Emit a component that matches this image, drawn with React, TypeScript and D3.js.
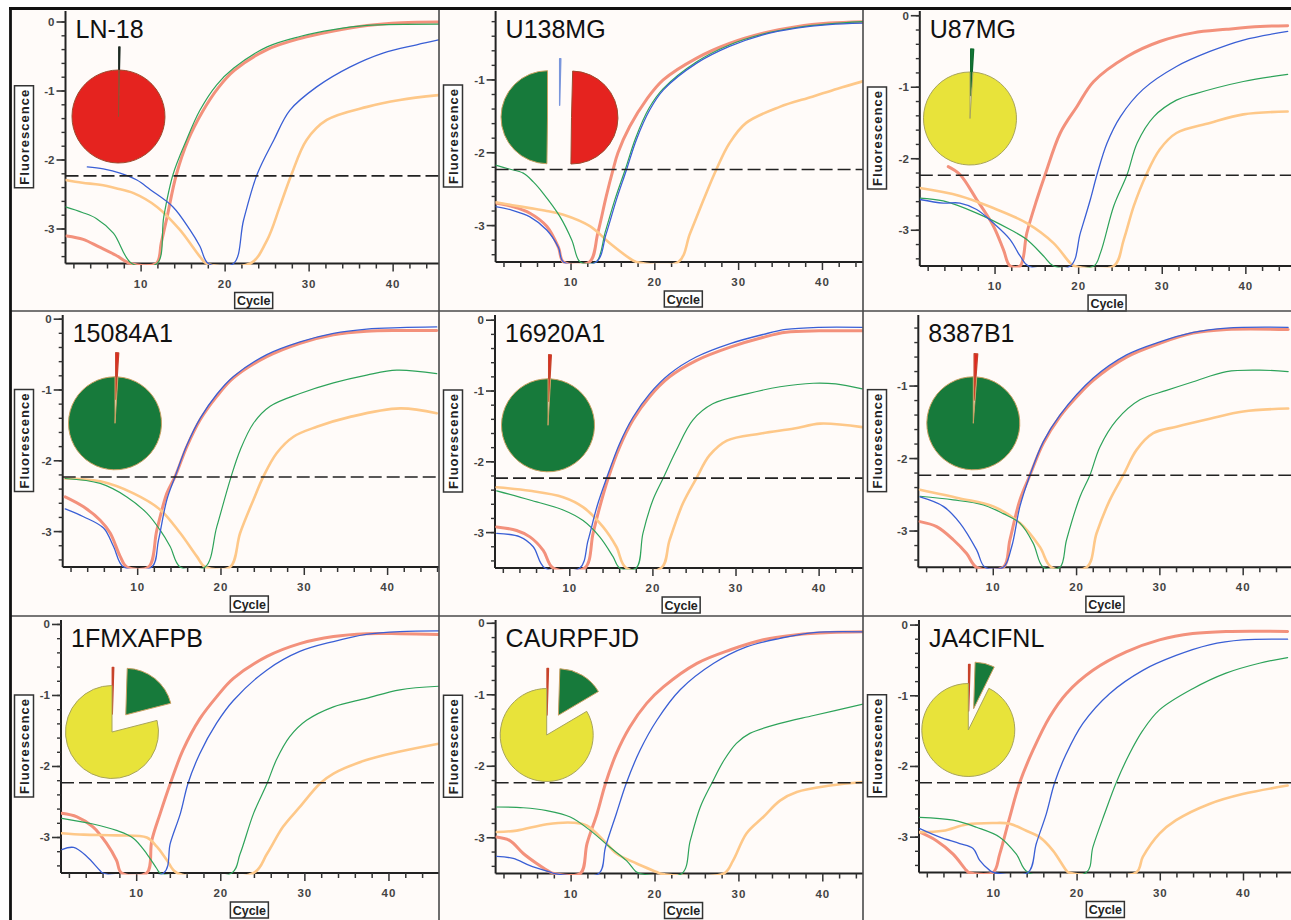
import React from "react";
import * as d3 from "d3";

type Pt = [number, number];
type Slice = { key: string; value: number };

const panelNames = ["LN-18", "U138MG", "U87MG", "15084A1", "16920A1", "8387B1", "1FMXAFPB", "CAURPFJD", "JA4CIFNL"];
const threshold = -2.23;
const yFloor = -3.5;
const xMajorTicks = [10, 20, 30, 40];

// ---- LN-18 ----
const ln18Red: Pt[] = [[1.15,-3.10],[3.1,-3.15],[5,-3.26],[7,-3.38],[8.7,-3.5],[11.8,-3.5],[12.4,-3.2],[13.1,-2.82],[14.2,-2.21],[15.6,-1.71],[17.3,-1.30],[19.2,-0.95],[21.1,-0.70],[25,-0.40],[28.9,-0.24],[32.9,-0.13],[36.9,-0.05],[41,-0.01],[45.4,0.0]];
const ln18Green: Pt[] = [[1,-2.68],[3,-2.76],[4.7,-2.85],[6.7,-3.06],[8.9,-3.5],[11.9,-3.5],[12.7,-2.82],[13.8,-2.21],[15.4,-1.71],[17,-1.28],[19,-0.91],[21,-0.67],[25,-0.36],[28.9,-0.21],[32.9,-0.11],[36.9,-0.05],[45.4,-0.03]];
const ln18Blue: Pt[] = [[3.6,-2.10],[5.5,-2.13],[7.5,-2.19],[9.5,-2.29],[11.1,-2.43],[13.8,-2.68],[15.8,-3.01],[17,-3.25],[18,-3.5],[21,-3.5],[22.2,-2.87],[23.8,-2.21],[25.8,-1.71],[27.7,-1.28],[30.9,-0.94],[34.9,-0.65],[38.8,-0.45],[42.8,-0.33],[45.4,-0.26]];
const ln18Orange: Pt[] = [[1,-2.29],[3,-2.33],[5.1,-2.36],[7,-2.41],[9.1,-2.48],[11.9,-2.68],[14.6,-3.01],[17,-3.40],[17.8,-3.5],[23,-3.5],[25,-3.16],[26.5,-2.68],[27.9,-2.21],[29.7,-1.71],[32.1,-1.42],[36.9,-1.23],[40.8,-1.13],[45.4,-1.06]];

// ---- U138MG ----
const u138Red: Pt[] = [[1,-2.69],[3,-2.74],[5.1,-2.83],[7.1,-3.01],[8.5,-3.3],[9.1,-3.5],[12.2,-3.5],[13.2,-3.1],[14.2,-2.6],[15.0,-2.24],[15.6,-2.0],[17,-1.64],[19,-1.27],[21,-1.0],[25,-0.70],[28.9,-0.50],[32.9,-0.36],[36.9,-0.27],[40.8,-0.22],[44.8,-0.20]];
const u138Green: Pt[] = [[1,-2.17],[2.5,-2.22],[4.3,-2.28],[5.5,-2.4],[6.7,-2.56],[8.7,-2.88],[10.1,-3.2],[11.1,-3.5],[13,-3.5],[14.1,-3.08],[15.3,-2.62],[16.5,-2.22],[17.7,-1.8],[19.3,-1.39],[21,-1.12],[25,-0.75],[28.9,-0.52],[32.9,-0.37],[36.9,-0.28],[40.8,-0.23],[44.8,-0.20]];
const u138Blue: Pt[] = [[1,-2.74],[3,-2.79],[5.1,-2.88],[7.1,-3.06],[8.5,-3.3],[9.1,-3.5],[13,-3.5],[14.2,-3.11],[15.4,-2.65],[16.6,-2.24],[17.8,-1.82],[19.4,-1.41],[21,-1.14],[25,-0.77],[28.9,-0.54],[32.9,-0.38],[36.9,-0.29],[40.8,-0.24],[44.8,-0.22]];
const u138Orange: Pt[] = [[1,-2.68],[3,-2.72],[5.1,-2.76],[7.1,-2.80],[9.1,-2.85],[12.3,-3.01],[14.6,-3.24],[17,-3.45],[17.8,-3.5],[22.8,-3.5],[24.2,-3.11],[25.8,-2.65],[27.3,-2.24],[28.9,-1.87],[30.9,-1.59],[34.9,-1.37],[38.8,-1.23],[41.8,-1.12],[44.8,-1.02]];

// ---- U87MG ----
const u87Red: Pt[] = [[4.4,-2.11],[5.8,-2.22],[7.8,-2.57],[9.8,-2.94],[11,-3.27],[11.8,-3.5],[13,-3.5],[13.8,-3.04],[15,-2.57],[16,-2.22],[17.8,-1.64],[19.8,-1.27],[21.8,-0.92],[25.8,-0.57],[29.7,-0.36],[33.7,-0.24],[37.7,-0.19],[41.7,-0.15],[45,-0.14]];
const u87Green: Pt[] = [[1,-2.55],[3.8,-2.59],[7.8,-2.76],[11.8,-2.99],[13.8,-3.13],[15.8,-3.36],[17,-3.5],[21.8,-3.5],[22.6,-3.32],[24.2,-2.66],[25.8,-2.22],[27,-1.78],[29,-1.41],[31.7,-1.18],[33.7,-1.10],[39.7,-0.92],[45,-0.82]];
const u87Blue: Pt[] = [[1,-2.57],[3.8,-2.62],[5.8,-2.62],[7.8,-2.71],[9.8,-2.90],[11.8,-3.13],[13,-3.36],[14,-3.5],[19,-3.5],[20.2,-3.04],[21.4,-2.57],[22.2,-2.22],[23.4,-1.78],[25,-1.41],[27.7,-1.03],[31.7,-0.71],[35.7,-0.50],[39.7,-0.34],[45,-0.22]];
const u87Orange: Pt[] = [[1,-2.41],[5.8,-2.52],[9.8,-2.69],[13.8,-2.90],[17,-3.18],[19,-3.46],[19.5,-3.5],[24.2,-3.5],[25.4,-3.13],[26.6,-2.66],[28.1,-2.22],[29.7,-1.87],[31.7,-1.64],[35.7,-1.50],[39.7,-1.38],[45,-1.34]];

// ---- 15084A1 ----
const s15084Red: Pt[] = [[1.3,-2.51],[3.5,-2.65],[5.5,-2.84],[6.7,-3.02],[7.9,-3.35],[8.7,-3.5],[11.3,-3.5],[12.3,-2.98],[13.5,-2.46],[14.5,-2.22],[15.9,-1.80],[17.5,-1.42],[19.5,-1.09],[21.5,-0.83],[25.5,-0.53],[29.5,-0.34],[33.5,-0.22],[37.5,-0.17],[41.5,-0.16],[45.9,-0.16]];
const s15084Green: Pt[] = [[1.3,-2.25],[5.5,-2.32],[8.7,-2.51],[11.1,-2.74],[12.7,-2.98],[13.9,-3.21],[15.1,-3.5],[18.1,-3.5],[19.5,-2.93],[21.2,-2.23],[22.3,-1.85],[23.9,-1.47],[25.9,-1.23],[29.5,-1.05],[33.5,-0.90],[37.5,-0.79],[41.1,-0.72],[45.9,-0.77]];
const s15084Blue: Pt[] = [[1.3,-2.68],[3.5,-2.79],[5.9,-2.95],[7.1,-3.21],[8.3,-3.5],[11.7,-3.5],[12.5,-3.12],[13.5,-2.55],[14.5,-2.22],[15.9,-1.78],[17.5,-1.40],[19.5,-1.06],[21.5,-0.81],[25.5,-0.50],[29.5,-0.32],[33.5,-0.20],[37.5,-0.14],[41.5,-0.12],[45.9,-0.11]];
const s15084Orange: Pt[] = [[1.3,-2.25],[5.5,-2.29],[9.5,-2.46],[12.7,-2.69],[15.1,-3.02],[17.1,-3.35],[18.1,-3.5],[21.1,-3.5],[22.3,-3.02],[23.9,-2.55],[25.1,-2.22],[26.7,-1.89],[28.7,-1.66],[31.5,-1.52],[35.5,-1.38],[41.5,-1.26],[45.9,-1.33]];

// ---- 16920A1 ----
const s16920Red: Pt[] = [[1.2,-2.92],[3.6,-2.97],[5.2,-3.06],[6.8,-3.25],[8,-3.5],[11.8,-3.5],[12.8,-3.01],[13.6,-2.64],[14.6,-2.24],[16,-1.79],[17.6,-1.41],[19.6,-1.08],[22,-0.80],[25.2,-0.57],[29.3,-0.38],[33.3,-0.24],[36,-0.17],[40,-0.15],[45.2,-0.15]];
const s16920Green: Pt[] = [[1.2,-2.41],[5.2,-2.54],[9.2,-2.68],[11.6,-2.83],[13.6,-3.06],[15.2,-3.34],[16,-3.5],[18,-3.5],[18.8,-3.01],[20,-2.54],[21.2,-2.24],[22.8,-1.84],[24.8,-1.41],[27.2,-1.18],[31.3,-1.04],[35.3,-0.94],[39.3,-0.89],[42,-0.90],[45.2,-0.97]];
const s16920Blue: Pt[] = [[1.2,-3.01],[4,-3.06],[5.6,-3.20],[7,-3.5],[11.2,-3.5],[12.2,-3.11],[13.3,-2.62],[14.4,-2.24],[16,-1.74],[17.6,-1.37],[19.6,-1.04],[22,-0.76],[25.2,-0.52],[29.3,-0.33],[33.3,-0.20],[36,-0.13],[40,-0.10],[45.2,-0.10]];
const s16920Orange: Pt[] = [[1.2,-2.36],[5.2,-2.41],[9.2,-2.50],[11.6,-2.64],[14,-2.92],[15.6,-3.20],[16.8,-3.5],[21,-3.5],[22,-3.11],[23.6,-2.59],[25.2,-2.24],[26.8,-1.91],[28.9,-1.70],[33,-1.60],[37,-1.53],[40.1,-1.46],[45.2,-1.51]];

// ---- 8387B1 ----
const s8387Red: Pt[] = [[1.2,-2.87],[3.2,-2.94],[5.2,-3.12],[6.8,-3.31],[8,-3.5],[11.2,-3.5],[12,-3.12],[13.2,-2.57],[14.4,-2.23],[16,-1.79],[18,-1.42],[20,-1.15],[22,-0.92],[26,-0.60],[30,-0.41],[34,-0.27],[38,-0.22],[45.4,-0.22]];
const s8387Green: Pt[] = [[1.2,-2.52],[5.2,-2.57],[8.8,-2.64],[11.2,-2.76],[13.2,-2.89],[14.8,-3.17],[16,-3.5],[18,-3.5],[18.8,-3.12],[20.4,-2.53],[21.6,-2.23],[22.8,-1.84],[24.8,-1.47],[27.6,-1.19],[30.8,-1.06],[34,-0.94],[38,-0.80],[42,-0.78],[45.4,-0.80]];
const s8387Blue: Pt[] = [[1.2,-2.53],[4,-2.66],[6,-2.89],[8,-3.26],[9,-3.5],[11.2,-3.5],[12.2,-3.22],[13.2,-2.66],[14.4,-2.23],[16,-1.77],[18,-1.40],[22,-0.89],[26,-0.57],[30,-0.39],[34,-0.26],[38,-0.20],[45.4,-0.19]];
const s8387Orange: Pt[] = [[1.2,-2.43],[6,-2.55],[10,-2.66],[13.2,-2.89],[15.6,-3.22],[17,-3.5],[21.2,-3.5],[22.4,-3.03],[24,-2.57],[25.6,-2.23],[27.2,-1.88],[29.2,-1.65],[32,-1.56],[36,-1.45],[40,-1.35],[45.4,-1.31]];

// ---- 1FMXAFPB ----
const s1fmRed: Pt[] = [[1.1,-2.66],[2.9,-2.71],[4.8,-2.85],[6.4,-3.08],[7.6,-3.32],[8.2,-3.5],[11.2,-3.5],[11.8,-3.04],[12.8,-2.66],[14,-2.24],[15.5,-1.77],[17.5,-1.33],[19.5,-1.02],[21.5,-0.76],[25.5,-0.45],[29.4,-0.27],[33.4,-0.17],[37.3,-0.13],[41.3,-0.13],[45.9,-0.14]];
const s1fmGreen: Pt[] = [[1.1,-2.73],[4.8,-2.81],[7.6,-2.90],[9.6,-3.01],[11.2,-3.23],[12.4,-3.44],[12.8,-3.5],[21.3,-3.5],[22.3,-3.23],[23.9,-2.66],[25.5,-2.24],[26.6,-1.91],[28.2,-1.58],[30.2,-1.35],[33.4,-1.16],[37.3,-1.04],[41.3,-0.92],[45.9,-0.87]];
const s1fmBlue: Pt[] = [[1.1,-3.17],[2.5,-3.14],[4.1,-3.27],[5.6,-3.46],[6,-3.5],[13.2,-3.5],[14,-3.08],[15.2,-2.66],[16.1,-2.24],[17.5,-1.82],[19.5,-1.39],[21.5,-1.07],[25.5,-0.64],[29.4,-0.38],[33.4,-0.24],[37.3,-0.14],[41.3,-0.10],[45.9,-0.09]];
const s1fmOrange: Pt[] = [[1.1,-2.94],[3.7,-2.96],[7.6,-2.97],[11.2,-3.0],[12.4,-3.13],[13.6,-3.32],[14.8,-3.5],[23.9,-3.5],[25.5,-3.23],[27.4,-2.85],[29.4,-2.57],[31.8,-2.24],[33.4,-2.10],[37.3,-1.91],[41.3,-1.79],[45.9,-1.68]];

// ---- CAURPFJD ----
const caurRed: Pt[] = [[1.1,-2.99],[2.7,-3.04],[4.3,-3.22],[5.9,-3.36],[7.5,-3.48],[8,-3.5],[11.1,-3.5],[11.9,-3.08],[13.1,-2.66],[14.1,-2.24],[15.4,-1.82],[17,-1.45],[19,-1.12],[21,-0.89],[25,-0.56],[29,-0.37],[32.9,-0.23],[36.9,-0.16],[40.9,-0.13],[44.8,-0.12]];
const caurGreen: Pt[] = [[1.1,-2.57],[4.3,-2.58],[7.1,-2.62],[9.9,-2.71],[12.3,-2.90],[14.6,-3.13],[16.6,-3.32],[17.8,-3.48],[18.2,-3.5],[23.2,-3.5],[24.2,-3.04],[25.4,-2.57],[26.8,-2.23],[28.2,-1.92],[29.7,-1.68],[31.3,-1.54],[34.9,-1.40],[38.9,-1.29],[44.8,-1.13]];
const caurBlue: Pt[] = [[1.1,-3.26],[3.1,-3.29],[5.1,-3.39],[7.5,-3.48],[8,-3.5],[13.3,-3.5],[14.1,-3.13],[15.4,-2.66],[16.6,-2.23],[18.2,-1.78],[20.2,-1.36],[23,-0.93],[27,-0.56],[30.9,-0.33],[34.9,-0.21],[38.9,-0.13],[44.8,-0.12]];
const caurOrange: Pt[] = [[1.1,-2.92],[3.5,-2.90],[7.1,-2.81],[10.3,-2.79],[11.9,-2.83],[13.9,-3.04],[15.4,-3.22],[17.8,-3.36],[20.2,-3.48],[20.6,-3.5],[28.2,-3.5],[29.3,-3.32],[30.9,-2.94],[32.9,-2.71],[34.9,-2.48],[36.9,-2.36],[40.9,-2.27],[44.8,-2.22]];

// ---- JA4CIFNL ----
const ja4Red: Pt[] = [[1.1,-2.93],[3.1,-3.05],[5.1,-3.24],[6.7,-3.47],[7,-3.5],[9.9,-3.5],[10.7,-3.24],[11.9,-2.72],[13.1,-2.23],[14.7,-1.77],[16.7,-1.30],[18.7,-0.97],[21.9,-0.64],[25.9,-0.38],[29.9,-0.21],[33.9,-0.12],[37.9,-0.09],[45.3,-0.09]];
const ja4Green: Pt[] = [[1.1,-2.72],[5.1,-2.76],[7.9,-2.86],[10.7,-3.0],[12.7,-3.24],[14.1,-3.5],[21.1,-3.5],[21.9,-3.14],[23.3,-2.67],[24.7,-2.23],[26.3,-1.82],[27.9,-1.49],[29.9,-1.20],[33.9,-0.90],[37.9,-0.68],[41.9,-0.54],[45.3,-0.46]];
const ja4Blue: Pt[] = [[1.1,-2.88],[3.5,-3.0],[5.9,-3.09],[7.5,-3.16],[8.3,-3.33],[9.5,-3.47],[10,-3.5],[14.1,-3.5],[15.1,-3.09],[16.3,-2.67],[17.3,-2.23],[18.7,-1.82],[20.7,-1.39],[23.9,-0.97],[27.9,-0.64],[31.9,-0.43],[35.9,-0.28],[39.9,-0.21],[45.3,-0.20]];
const ja4Orange: Pt[] = [[1.1,-2.93],[3.9,-2.91],[6.7,-2.82],[9.9,-2.80],[11.9,-2.81],[13.9,-2.91],[15.5,-3.0],[17.1,-3.19],[18.7,-3.47],[19,-3.5],[27.1,-3.5],[27.9,-3.28],[29.9,-2.95],[31.9,-2.76],[35.9,-2.53],[39.9,-2.39],[45.3,-2.27]];

const panelSeries = [
  { red: ln18Red, orange: ln18Orange, green: ln18Green, blue: ln18Blue },
  { red: u138Red, orange: u138Orange, green: u138Green, blue: u138Blue },
  { red: u87Red, orange: u87Orange, green: u87Green, blue: u87Blue },
  { red: s15084Red, orange: s15084Orange, green: s15084Green, blue: s15084Blue },
  { red: s16920Red, orange: s16920Orange, green: s16920Green, blue: s16920Blue },
  { red: s8387Red, orange: s8387Orange, green: s8387Green, blue: s8387Blue },
  { red: s1fmRed, orange: s1fmOrange, green: s1fmGreen, blue: s1fmBlue },
  { red: caurRed, orange: caurOrange, green: caurGreen, blue: caurBlue },
  { red: ja4Red, orange: ja4Orange, green: ja4Green, blue: ja4Blue },
];

// pie fractions
const pieLN18: Slice[] = [{ key: "dark", value: 0.004 }, { key: "red", value: 0.996 }];
const pieU138: Slice[] = [{ key: "blue", value: 0.004 }, { key: "red", value: 0.498 }, { key: "green", value: 0.498 }];
const pieU87: Slice[] = [{ key: "green", value: 0.01 }, { key: "yellow", value: 0.99 }];
const pie15084: Slice[] = [{ key: "red", value: 0.01 }, { key: "green", value: 0.99 }];
const pie16920: Slice[] = [{ key: "red", value: 0.009 }, { key: "green", value: 0.991 }];
const pie8387: Slice[] = [{ key: "red", value: 0.012 }, { key: "green", value: 0.988 }];
const pie1FM: Slice[] = [{ key: "red", value: 0.005 }, { key: "green", value: 0.205 }, { key: "yellow", value: 0.79 }];
const pieCAUR: Slice[] = [{ key: "red", value: 0.005 }, { key: "green", value: 0.16 }, { key: "yellow", value: 0.835 }];
const pieJA4: Slice[] = [{ key: "red", value: 0.005 }, { key: "green", value: 0.068 }, { key: "yellow", value: 0.927 }];
const panelPies = [pieLN18, pieU138, pieU87, pie15084, pie16920, pie8387, pie1FM, pieCAUR, pieJA4];

// ---- layout (positions / styles) ----
const colX = [[10, 439], [439, 863], [863, 1291]];
const rowY = [[8, 311], [311, 616], [616, 920]];
const layout = [
  { left: 65.5, right: 439, top: 10, bottom: 263.5, xMax: 45.46, yTop: 0.174, pie: [118.5, 116.5], explode: [23, 0] },
  { left: 495.6, right: 863, top: 10, bottom: 262, xMax: 44.84, yTop: -0.04, pie: [559.5, 117.3], explode: [12, 12, 12] },
  { left: 919.8, right: 1291, top: 10, bottom: 266, xMax: 45.40, yTop: 0.08, pie: [970, 118.5], explode: [23, 0] },
  { left: 62.7, right: 439, top: 314, bottom: 567, xMax: 46.17, yTop: 0.073, pie: [115, 423.3], explode: [24, 0] },
  { left: 495, right: 863, top: 314, bottom: 568, xMax: 45.28, yTop: 0.088, pie: [548, 425.3], explode: [24, 0] },
  { left: 918.3, right: 1291, top: 314, bottom: 567.3, xMax: 45.74, yTop: -0.006, pie: [973.3, 423.3], explode: [23, 0] },
  { left: 61, right: 439, top: 619, bottom: 873, xMax: 45.95, yTop: 0.077, pie: [112, 732], explode: [18, 22, 0] },
  { left: 495.6, right: 863, top: 619, bottom: 873.5, xMax: 44.79, yTop: 0.06, pie: [546.7, 735], explode: [20, 23, 0] },
  { left: 919, right: 1291, top: 619, bottom: 872.5, xMax: 45.71, yTop: 0.086, pie: [968.3, 730], explode: [19, 22, 0] },
];

const pieFill: Record<string, string> = { red: "#e5231f", green: "#177a3b", yellow: "#e8e33a", blue: "#8ea6de", dark: "#1d4a2c" };
const pieStroke: Record<string, string> = { red: "#9c4a2e", green: "#c9a062", yellow: "#a8a45c", blue: "#7090d8", dark: "#1d2a22" };
const tinyStroke: Record<string, string> = { red: "#c8432b", green: "#0f6a2e", blue: "#7a96dc", dark: "#1d2a22", yellow: "#c8c43a" };
const curveStyle: Record<string, { color: string; width: number }> = {
  red: { color: "#f3917c", width: 3.0 },
  orange: { color: "#fec889", width: 2.6 },
  green: { color: "#2ea35a", width: 1.2 },
  blue: { color: "#3a5fd5", width: 1.3 },
};
const drawOrder = ["red", "orange", "green", "blue"];
const FONT = "'Liberation Sans', Arial, Helvetica, sans-serif";

function Panel({ i }: { i: number }) {
  const L = layout[i];
  const col = i % 3;
  const x = d3.scaleLinear().domain([1, L.xMax]).range([L.left, L.right]);
  const y = d3.scaleLinear().domain([yFloor, L.yTop]).range([L.bottom, L.top]);
  const line = d3
    .line<Pt>()
    .x((d) => x(d[0]))
    .y((d) => y(Math.max(yFloor, d[1])))
    .curve(d3.curveCatmullRom.alpha(0.5));

  const xTicks = d3.range(2, L.xMax, 2);
  const yMinor = d3.range(-34, Math.floor(L.yTop * 10 + 1e-6) + 1, 2).map((v) => v / 10);
  const yMajor = [0, -1, -2, -3].filter((v) => v <= L.yTop + 1e-9);

  const pieGen = d3.pie<Slice>().value((d) => d.value).sort(null);
  const arcs = pieGen(panelPies[i]);
  const R = 46.5;
  const arcGen = d3.arc<d3.PieArcDatum<Slice>>().innerRadius(0).outerRadius(R);

  const series = panelSeries[i] as Record<string, Pt[]>;
  const midY = (L.top + L.bottom) / 2;
  const fluoX = colX[col][0] + 4.5;
  const cycleCx = x(23.4);

  return (
    <g>
      <defs>
        <clipPath id={`clip${i}`}>
          <rect x={L.left} y={L.top - 4} width={L.right - L.left} height={L.bottom - L.top + 5.5} />
        </clipPath>
      </defs>
      {/* axes */}
      <line x1={L.left} x2={L.left} y1={L.top + 1} y2={L.bottom} stroke="#222" strokeWidth={2} />
      <line x1={L.left} x2={L.right} y1={L.bottom} y2={L.bottom} stroke="#222" strokeWidth={2} />
      {yMinor.map((v) => (
        <line key={`ym${v}`} x1={L.left - 4} x2={L.left} y1={y(v)} y2={y(v)} stroke="#333" strokeWidth={1.4} />
      ))}
      {yMajor.map((v) => (
        <g key={`yM${v}`}>
          <line x1={L.left - 9} x2={L.left} y1={y(v)} y2={y(v)} stroke="#333" strokeWidth={1.6} />
          <text x={L.left - 11} y={y(v) + 4} textAnchor="end" fontSize={11.5} fontWeight="bold" fill="#444" fontFamily={FONT}>
            {v === 0 ? "0" : `-${Math.abs(v)}`}
          </text>
        </g>
      ))}
      {xTicks.map((v) => {
        const major = xMajorTicks.includes(v);
        return (
          <line key={`xt${v}`} x1={x(v)} x2={x(v)} y1={L.bottom} y2={L.bottom + (major ? 8 : 5)} stroke="#333" strokeWidth={1.5} />
        );
      })}
      {xMajorTicks.map((v) => (
        <text key={`xl${v}`} x={x(v)} y={L.bottom + 24} textAnchor="middle" fontSize={11.5} fontWeight="bold" fill="#444" letterSpacing={1} fontFamily={FONT}>
          {v}
        </text>
      ))}
      {/* curves */}
      <g clipPath={`url(#clip${i})`}>
        {drawOrder.map((k) => (
          <path
            key={k}
            d={line(series[k]) || ""}
            fill="none"
            stroke={curveStyle[k].color}
            strokeWidth={curveStyle[k].width}
            strokeLinejoin="round"
            strokeLinecap="round"
          />
        ))}
      </g>
      {/* threshold */}
      <line x1={L.left} x2={L.right} y1={y(threshold)} y2={y(threshold)} stroke="#222" strokeWidth={1.6} strokeDasharray="13,5" />
      {/* title */}
      <text x={L.left + 10} y={L.top + 28} fontSize={25} fill="#111" fontFamily={FONT}>
        {panelNames[i]}
      </text>
      {/* pie */}
      {arcs.map((a, k) => {
        const mid = (a.startAngle + a.endAngle) / 2;
        const e = L.explode[k];
        const tx = L.pie[0] + Math.sin(mid) * e;
        const ty = L.pie[1] - Math.cos(mid) * e;
        const tiny = a.data.value < 0.02;
        return (
          <path
            key={k}
            transform={`translate(${tx},${ty})`}
            d={arcGen(a) || ""}
            fill={pieFill[a.data.key]}
            stroke={tiny ? tinyStroke[a.data.key] : pieStroke[a.data.key]}
            strokeWidth={tiny ? 1.4 : 1}
            strokeLinejoin="round"
          />
        );
      })}
      {/* y label */}
      <g transform={`translate(${fluoX + 9.5},${midY}) rotate(-90)`}>
        <rect x={-51} y={-9.5} width={102} height={19} fill="#fff" stroke="#333" strokeWidth={1.5} />
        <text x={0} y={4.6} textAnchor="middle" fontSize={13} fontWeight="bold" fill="#222" letterSpacing={1} fontFamily={FONT}>
          Fluorescence
        </text>
      </g>
      {/* x label */}
      <g>
        <rect x={cycleCx - 19} y={L.bottom + 29} width={38} height={16} fill="#fff" stroke="#333" strokeWidth={1.5} />
        <text x={cycleCx} y={L.bottom + 41.5} textAnchor="middle" fontSize={12.5} fontWeight="bold" fill="#222" fontFamily={FONT}>
          Cycle
        </text>
      </g>
    </g>
  );
}

export default function App() {
  const W = 1291;
  const H = 920;
  return (
    <svg width={W} height={H} style={{ position: "absolute", left: 0, top: 0, background: "#fff" }}>
      {rowY.map((r, ri) =>
        colX.map((c, ci) => (
          <rect key={`bg${ri}${ci}`} x={c[0]} y={r[0]} width={c[1] - c[0]} height={r[1] - r[0]} fill="#fffbf9" />
        ))
      )}
      {layout.map((_, i) => (
        <Panel key={i} i={i} />
      ))}
      {/* dividers */}
      <line x1={439} x2={439} y1={8} y2={H} stroke="#4a4a4a" strokeWidth={1.6} />
      <line x1={863} x2={863} y1={8} y2={H} stroke="#4a4a4a" strokeWidth={1.6} />
      <line x1={10} x2={W} y1={311} y2={311} stroke="#4a4a4a" strokeWidth={1.6} />
      <line x1={10} x2={W} y1={616} y2={616} stroke="#4a4a4a" strokeWidth={1.6} />
      {/* outer frame */}
      <line x1={9} x2={W} y1={8.5} y2={8.5} stroke="#111" strokeWidth={2.8} />
      <line x1={10.5} x2={10.5} y1={7} y2={H} stroke="#111" strokeWidth={2.8} />
    </svg>
  );
}
